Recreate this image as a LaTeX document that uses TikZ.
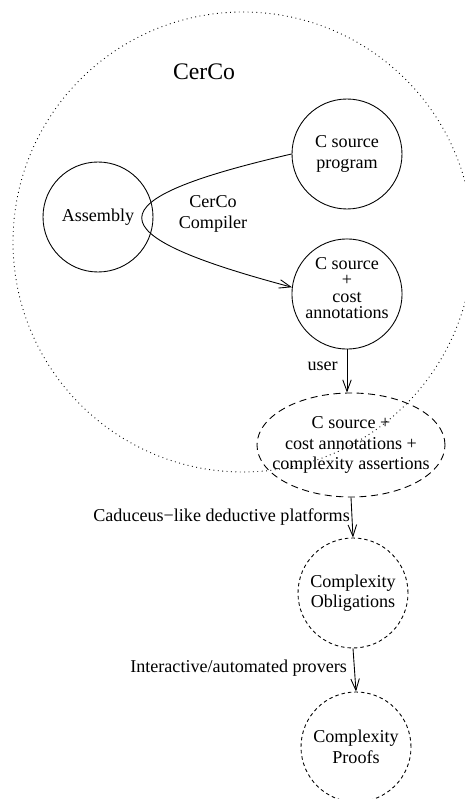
\documentclass[tikz,border=0pt]{standalone}
\usepackage{fontspec}
\setmainfont{Liberation Serif}
\usetikzlibrary{arrows.meta,shapes.geometric}
\tikzset{
	stage/.style={circle, draw, inner sep=0pt, minimum size=2.2cm, align=center},
	goal/.style={stage, dash pattern=on 2pt off 1.7pt},
	flow/.style={-{Straight Barb[length=2.3mm,width=1.7mm]}},
}

\begin{document}
\begin{tikzpicture}[line width=0.5pt, font=\fontsize{10.3}{11.7}\selectfont]
			%%%%% START %%%%%
			
			\useasboundingbox (0, 0) rectangle (9.3, 15.98);
			
			\draw[dotted] (4.86, 11.14) circle (4.6);
			\node[font=\fontsize{13.5}{16}\selectfont] (cerco) at (4.08, 14.54) {CerCo};
			
			\node[stage] (asm) at (1.96, 11.64) {Assembly};
			\node[stage] (prog) at (6.94, 12.9) {C source\\program};
			\node[stage, font=\fontsize{10.3}{9.2}\selectfont] (ann) at (6.94, 10.1) {C source\\+\\cost\\annotations\\[-2.4pt]};
			
			\node[ellipse, draw, dash pattern=on 4pt off 2.6pt, minimum width=3.76cm, minimum height=2.08cm] (ell) at (7.02, 7.08) {};
			\node[align=center] (asrt) at (ell) {C source +\\cost annotations +\\complexity assertions};
			
			\node[goal] (obl) at (7.06, 4.12) {Complexity\\Obligations};
			\node[goal] (proofs) at (7.12, 1.04) {Complexity\\Proofs};
			
			\node[align=center] (comp) at (4.26, 11.7) {CerCo\\Compiler};
			\draw[flow] (prog.west) .. controls (1.84, 11.98) and (1.84, 11.3) .. (ann.173);
			
			\draw[flow] (ann.south) -- node[left, pos=0.4, inner sep=5pt] {user} (ann.south |- ell.north);
			\draw[flow] (ell.south) -- node[left, inner sep=1pt] {Caduceus−like deductive platforms} (obl.north);
			\draw[flow] (obl.south) -- node[left, pos=0.45, inner sep=4pt] {Interactive/automated provers} (proofs.north);
			
			%%%%% END %%%%%
\end{tikzpicture}
\end{document}
